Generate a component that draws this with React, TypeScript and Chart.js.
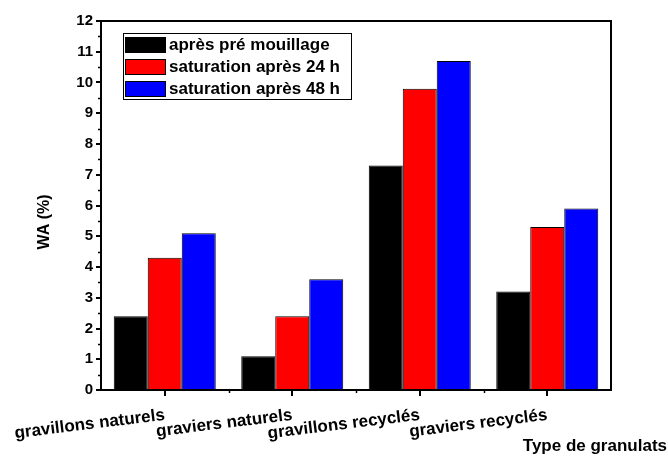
import React, { useEffect, useRef } from "react";
import { Chart, registerables } from "chart.js";

Chart.register(...registerables);

const categories = ["gravillons naturels", "graviers naturels", "gravillons recyclés", "graviers recyclés"];
const seriesNames = ["après pré mouillage", "saturation après 24 h", "saturation après 48 h"];
const preMouillage = [2.4, 1.1, 7.3, 3.2];
const sat24 = [4.3, 2.4, 9.8, 5.3];
const sat48 = [5.1, 3.6, 10.7, 5.9];
const seriesColors = ["#000000", "#ff0000", "#0000ff"];
const yTitle = "WA (%)";
const xTitle = "Type de granulats";

const FONT = "'Liberation Sans', Arial, sans-serif";

const decorPlugin = {
  id: "decor",
  afterDraw(chart: any) {
    const ctx = chart.ctx;
    const { left, right, top, bottom } = chart.chartArea;
    ctx.save();
    // frame top/right
    ctx.strokeStyle = "#000";
    ctx.lineWidth = 2;
    ctx.beginPath();
    ctx.moveTo(left, top);
    ctx.lineTo(right, top);
    ctx.lineTo(right, bottom);
    ctx.stroke();
    // minor ticks
    ctx.lineWidth = 1.5;
    const y = chart.scales.y;
    for (let v = 0.5; v < 12; v += 1) {
      const py = Math.round(y.getPixelForValue(v)) + 0.5;
      ctx.beginPath();
      ctx.moveTo(left - 3, py);
      ctx.lineTo(left, py);
      ctx.stroke();
    }
    const x = chart.scales.x;
    const n = categories.length;
    for (let i = 0; i < n - 1; i++) {
      const px = Math.round((x.getPixelForValue(i) + x.getPixelForValue(i + 1)) / 2) + 0.5;
      ctx.beginPath();
      ctx.moveTo(px, bottom);
      ctx.lineTo(px, bottom + 3);
      ctx.stroke();
    }
    // legend
    const lx = 123, ly = 33, lw = 228, lh = 66;
    ctx.lineWidth = 1;
    ctx.strokeStyle = "#000";
    ctx.strokeRect(lx + 0.5, ly + 0.5, lw, lh);
    ctx.font = `bold 17px ${FONT}`;
    ctx.textBaseline = "middle";
    ctx.textAlign = "left";
    chart.data.datasets.forEach((ds: any, i: number) => {
      const ry = 37 + i * 22;
      ctx.fillStyle = ds.backgroundColor;
      ctx.fillRect(125, ry, 40, 15);
      ctx.strokeStyle = "#000";
      ctx.strokeRect(125.5, ry + 0.5, 40, 15);
      ctx.fillStyle = "#000";
      ctx.fillText(ds.label, 169, ry + 8);
    });
    // axis titles
    ctx.font = `bold 17px ${FONT}`;
    ctx.textAlign = "right";
    ctx.textBaseline = "alphabetic";
    ctx.fillText(xTitle, 667, 451);
    ctx.font = `bold 16px ${FONT}`;
    ctx.translate(45, 222);
    ctx.rotate(-Math.PI / 2);
    ctx.textAlign = "center";
    ctx.textBaseline = "middle";
    ctx.fillText(yTitle, 0, 0);
    ctx.restore();
  },
};

export default function App() {
  const ref = useRef<HTMLCanvasElement>(null);
  useEffect(() => {
    document.body.style.margin = "0";
    const data = [preMouillage, sat24, sat48];
    const chart = new Chart(ref.current!, {
      type: "bar",
      data: {
        labels: categories,
        datasets: seriesNames.map((name, i) => ({
          label: name,
          data: data[i],
          backgroundColor: seriesColors[i],
          borderColor: "#000",
          borderWidth: 1,
          barPercentage: 1.0,
          categoryPercentage: 0.8,
        })),
      },
      options: {
        responsive: false,
        animation: false,
        layout: { padding: { left: 0, top: 21, right: 57, bottom: 0 } },
        plugins: { legend: { display: false }, tooltip: { enabled: false } },
        scales: {
          x: {
            grid: { display: true, drawOnChartArea: false, drawTicks: true, tickLength: 6, color: "#000", lineWidth: 2, offset: false },
            border: { display: true, color: "#000", width: 2 },
            ticks: {
              color: "#000",
              font: { family: FONT, size: 17, weight: "bold" },
              minRotation: 7,
              maxRotation: 7,
              autoSkip: false,
              padding: 9,
            },
            afterFit: (s: any) => {
              s.height = 67;
              s.paddingLeft = 0;
              s.paddingRight = 0;
            },
          },
          y: {
            min: 0,
            max: 12,
            grid: { display: true, drawOnChartArea: false, drawTicks: true, tickLength: 5, color: "#000", lineWidth: 2 },
            border: { display: true, color: "#000", width: 2 },
            ticks: {
              stepSize: 1,
              color: "#000",
              font: { family: FONT, size: 15, weight: "bold" },
              padding: 3,
            },
            afterFit: (s: any) => {
              s.width = 101;
              s.paddingTop = 0;
              s.paddingBottom = 0;
            },
          },
        },
      },
      plugins: [decorPlugin],
    });
    return () => chart.destroy();
  }, []);
  return (
    <div style={{ width: 668, height: 457 }}>
      <canvas ref={ref} width={668} height={457} />
    </div>
  );
}
